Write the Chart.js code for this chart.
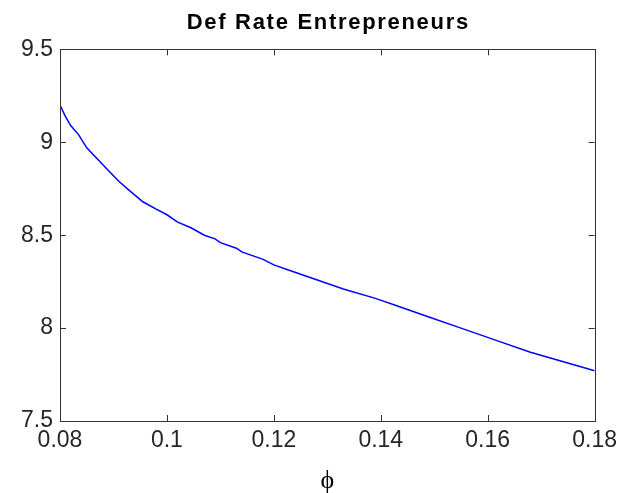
<!DOCTYPE html>
<html>
<head>
<meta charset="utf-8">
<script src="https://cdn.jsdelivr.net/npm/chart.js@4"></script>
<style>
  html, body { margin: 0; background: #fff; }
  #wrap { width: 623px; height: 493px; }
</style>
</head>
<body>
<div id="wrap"><canvas id="chartDef"></canvas></div>
<script>
// values
const phi = [0.080, 0.081, 0.082, 0.0835, 0.085, 0.087, 0.089, 0.091, 0.093, 0.0955,
  0.098, 0.100, 0.102, 0.1045, 0.107, 0.109, 0.110, 0.113, 0.114, 0.118,
  0.120, 0.123, 0.128, 0.133, 0.139, 0.143, 0.149, 0.155, 0.162, 0.168,
  0.174, 0.180];
const defRate = [9.20, 9.14, 9.09, 9.04, 8.97, 8.91, 8.85, 8.79, 8.74, 8.68,
  8.64, 8.61, 8.57, 8.54, 8.50, 8.48, 8.46, 8.43, 8.41, 8.37,
  8.34, 8.31, 8.26, 8.21, 8.16, 8.12, 8.06, 8.00, 7.93, 7.87,
  7.82, 7.77];
const xTicks = [0.08, 0.1, 0.12, 0.14, 0.16, 0.18];
const yTicks = [7.5, 8, 8.5, 9, 9.5];

// box round the plot and matlab style inner ticks
const axesBox = {
  id: 'axesBox',
  afterInit(chart) {
    // matlab spreads the title letters a bit and centres it over the axes
    const tb = chart.titleBlock;
    if (!tb) return;
    const orig = tb.draw;
    tb.draw = function (area) {
      const a = chart.chartArea;
      this.ctx.save();
      this.ctx.letterSpacing = '1.7px';
      this.ctx.translate((a.left + a.right) / 2 - (this.left + this.right) / 2 + 1, 0);
      orig.call(this, area);
      this.ctx.restore();
    };
  },
  afterDatasetsDraw(chart) {
    const { ctx, chartArea: a, scales } = chart;
    ctx.save();
    ctx.strokeStyle = '#333';
    ctx.lineWidth = 1;
    ctx.strokeRect(Math.round(a.left) + 0.5, Math.round(a.top) + 0.5,
      Math.round(a.right - a.left), Math.round(a.bottom - a.top));
    ctx.beginPath();
    xTicks.forEach(v => {
      const x = Math.round(scales.x.getPixelForValue(v)) + 0.5;
      ctx.moveTo(x, a.bottom); ctx.lineTo(x, a.bottom - 6);
      ctx.moveTo(x, a.top); ctx.lineTo(x, a.top + 6);
    });
    yTicks.forEach(v => {
      const y = Math.round(scales.y.getPixelForValue(v)) + 0.5;
      ctx.moveTo(a.left, y); ctx.lineTo(a.left + 6, y);
      ctx.moveTo(a.right, y); ctx.lineTo(a.right - 6, y);
    });
    ctx.stroke();
    ctx.restore();
  }
};

const ctxDef = document.getElementById('chartDef').getContext('2d');

new Chart(ctxDef, {
  type: 'line',
  data: {
    datasets: [{
      data: phi.map((p, i) => ({ x: p, y: defRate[i] })),
      borderColor: '#0000ff',
      borderWidth: 1.5,
      pointRadius: 0,
      tension: 0,
      fill: false
    }]
  },
  options: {
    responsive: true,
    maintainAspectRatio: false,
    animation: false,
    layout: { padding: { left: 0, right: 25, top: 0, bottom: 0 } },
    plugins: {
      legend: { display: false },
      tooltip: { enabled: false },
      title: {
        display: true,
        text: 'Def Rate Entrepreneurs',
        color: '#000',
        font: { family: 'Liberation Sans', size: 22, weight: 'bold', lineHeight: 1.2 },
        padding: { top: 10, bottom: 13 }
      }
    },
    scales: {
      x: {
        type: 'linear',
        min: 0.08,
        max: 0.18,
        grid: { display: false, drawTicks: false },
        border: { display: false },
        afterBuildTicks: s => { s.ticks = xTicks.map(v => ({ value: v })); },
        afterFit: s => { s.height = 72; },
        ticks: {
          color: '#262626',
          padding: 6,
          maxRotation: 0,
          autoSkip: false,
          font: { family: 'Liberation Sans', size: 23, lineHeight: 1.2 },
          callback: v => String(v)
        },
        title: {
          display: true,
          text: 'ϕ',
          color: '#000',
          font: { family: 'Liberation Serif', size: 26, lineHeight: 0.9 },
          padding: { top: 0, bottom: 0 }
        }
      },
      y: {
        min: 7.5,
        max: 9.5,
        grid: { display: false, drawTicks: false },
        border: { display: false },
        afterBuildTicks: s => { s.ticks = yTicks.map(v => ({ value: v })); },
        afterFit: s => { s.width = 60; },
        ticks: {
          color: '#262626',
          padding: 7,
          autoSkip: false,
          font: { family: 'Liberation Sans', size: 23 },
          callback: v => String(v)
        }
      }
    }
  },
  plugins: [axesBox]
});
</script>
</body>
</html>
